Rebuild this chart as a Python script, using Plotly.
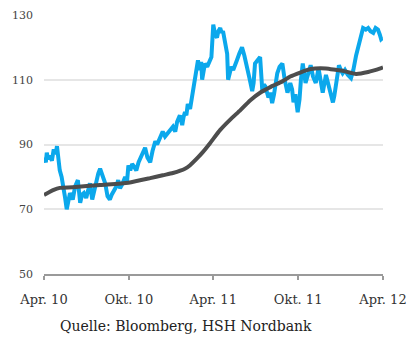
import plotly.graph_objects as go

# Daily price (blue) and its moving average (grey), USD
price_dates = [
    "2010-04-01", "2010-04-05", "2010-04-07", "2010-04-10", "2010-04-14",
    "2010-04-18", "2010-04-22", "2010-04-26", "2010-04-29", "2010-05-05",
    "2010-05-09", "2010-05-12", "2010-05-16", "2010-05-20", "2010-05-24",
    "2010-05-27", "2010-06-02", "2010-06-07", "2010-06-13", "2010-06-18",
    "2010-06-22", "2010-06-26", "2010-07-01", "2010-07-05", "2010-07-09",
    "2010-07-14", "2010-07-18", "2010-07-22", "2010-07-27", "2010-07-31",
    "2010-08-05", "2010-08-11", "2010-08-16", "2010-08-21", "2010-08-25",
    "2010-08-30", "2010-09-04", "2010-09-08", "2010-09-12", "2010-09-16",
    "2010-09-20", "2010-09-23", "2010-09-27", "2010-09-30", "2010-10-04",
    "2010-10-08", "2010-10-13", "2010-10-17", "2010-10-22", "2010-10-26",
    "2010-10-31", "2010-11-05", "2010-11-10", "2010-11-16", "2010-11-21",
    "2010-11-27", "2010-12-01", "2010-12-05", "2010-12-09", "2010-12-13",
    "2010-12-18", "2010-12-24", "2010-12-29", "2011-01-04", "2011-01-09",
    "2011-01-13", "2011-01-19", "2011-01-24", "2011-01-27", "2011-01-30",
    "2011-02-02", "2011-02-05", "2011-02-10", "2011-02-13", "2011-02-16",
    "2011-02-19", "2011-02-21", "2011-02-24", "2011-02-27", "2011-03-03",
    "2011-03-06", "2011-03-08", "2011-03-11", "2011-03-14", "2011-03-19",
    "2011-03-25", "2011-03-28", "2011-04-01", "2011-04-05", "2011-04-09",
    "2011-04-12", "2011-04-16", "2011-04-19", "2011-04-22", "2011-04-26",
    "2011-05-01", "2011-05-03", "2011-05-07", "2011-05-10", "2011-05-14",
    "2011-05-18", "2011-05-22", "2011-05-27", "2011-06-02", "2011-06-07",
    "2011-06-13", "2011-06-18", "2011-06-24", "2011-06-27", "2011-06-30",
    "2011-07-05", "2011-07-11", "2011-07-16", "2011-07-19", "2011-07-22",
    "2011-07-25", "2011-07-29", "2011-08-02", "2011-08-06", "2011-08-10",
    "2011-08-13", "2011-08-17", "2011-08-22", "2011-08-28", "2011-09-02",
    "2011-09-08", "2011-09-14", "2011-09-18", "2011-09-21", "2011-09-25",
    "2011-09-30", "2011-10-04", "2011-10-07", "2011-10-11", "2011-10-17",
    "2011-10-22", "2011-10-28", "2011-11-02", "2011-11-08", "2011-11-14",
    "2011-11-18", "2011-11-23", "2011-11-30", "2011-12-03", "2011-12-06",
    "2011-12-10", "2011-12-15", "2011-12-18", "2011-12-21", "2011-12-28",
    "2012-01-01", "2012-01-05", "2012-01-10", "2012-01-16", "2012-01-23",
    "2012-01-28", "2012-02-03", "2012-02-09", "2012-02-14", "2012-02-18",
    "2012-02-24", "2012-02-29", "2012-03-05", "2012-03-11", "2012-03-16",
    "2012-03-21", "2012-03-25", "2012-03-28", "2012-04-01",
]
price_values = [
    86.0, 84.5, 87.5, 85.5, 86.5,
    85.0, 88.5, 87.0, 89.5, 82.0,
    80.0, 78.0, 74.0, 70.0, 72.5,
    75.0, 73.0, 77.0, 79.0, 72.0,
    74.5, 75.0, 73.5, 76.5, 78.0,
    73.0, 75.5, 79.0, 81.0, 82.5,
    80.0, 78.0, 74.0, 73.0, 74.5,
    76.0, 77.0, 79.0, 76.5, 77.5,
    79.0, 80.0, 78.5, 83.5, 82.0,
    84.0, 83.0, 82.0, 84.5, 86.0,
    87.5, 89.0, 86.0, 84.5, 88.0,
    91.0, 90.0, 91.5, 93.0, 94.0,
    92.5, 93.5, 94.5, 95.5, 94.0,
    97.0, 99.0, 96.0, 98.5, 100.0,
    99.0, 102.5, 101.0, 103.5, 106.0,
    108.5, 111.0, 113.0, 116.0, 113.0,
    115.5, 110.0, 113.0, 115.0, 114.0,
    116.5, 117.0, 127.0, 124.0, 123.0,
    125.0, 126.0, 124.5, 125.0, 122.0,
    118.0, 110.0, 112.0, 114.0, 113.0,
    115.0, 116.0, 118.0, 120.0, 117.5,
    113.0, 110.5, 106.5, 109.0, 115.0,
    116.0, 117.0, 106.0, 108.5, 108.0,
    106.0, 104.5, 106.0, 102.8, 105.5,
    108.0, 112.0, 114.0, 115.0, 110.0,
    106.0, 109.0, 107.0, 103.0, 105.5,
    100.0, 104.0, 110.0, 115.0, 109.0,
    111.5, 114.5, 111.0, 109.0, 113.5,
    110.0, 106.0, 111.5, 110.0, 108.5,
    106.0, 103.0, 105.0, 108.0, 114.5,
    113.0, 112.0, 113.0, 111.5, 110.5,
    113.0, 117.5, 120.5, 123.0, 126.0,
    125.5, 126.0, 125.0, 124.5, 126.0,
    125.5, 124.0, 122.5, 123.0,
]

avg_dates = [
    "2010-04-01", "2010-04-22", "2010-05-05", "2010-06-02", "2010-07-31",
    "2010-09-30", "2010-11-16", "2010-12-13", "2011-01-04", "2011-01-30",
    "2011-02-10", "2011-02-27", "2011-03-08", "2011-03-25", "2011-04-16",
    "2011-05-07", "2011-05-30", "2011-06-20", "2011-07-11", "2011-08-03",
    "2011-08-28", "2011-09-14", "2011-10-28", "2011-11-30", "2011-12-23",
    "2012-01-05", "2012-02-03", "2012-02-29", "2012-03-28", "2012-04-01",
]
avg_values = [
    74.4, 76.0, 76.6, 76.8, 77.5,
    78.2, 79.6, 80.5, 81.2, 82.5,
    83.6, 86.0, 87.4, 90.4, 94.5,
    97.6, 100.7, 103.7, 106.0, 107.8,
    109.5, 111.0, 113.3, 113.5, 113.0,
    112.8, 111.8, 112.4, 113.6, 113.8,
]

tick_dates = ["2010-04-01", "2010-10-01", "2011-04-01", "2011-10-01", "2012-04-01"]
tick_labels = ["Apr. 10", "Okt. 10", "Apr. 11", "Okt. 11", "Apr. 12"]
y_ticks = [50, 70, 90, 110, 130]

FONT = "DejaVu Serif"

fig = go.Figure()
fig.add_trace(go.Scatter(
    x=price_dates, y=price_values, mode="lines",
    line=dict(color="#0BA8EC", width=4), showlegend=False,
    cliponaxis=False,
))
fig.add_trace(go.Scatter(
    x=avg_dates, y=avg_values, mode="lines", line_shape="spline",
    line=dict(color="#4D4D4D", width=4, smoothing=0.6), showlegend=False,
))

fig.update_layout(
    width=411, height=338,
    margin=dict(l=44, r=28, t=15, b=64),
    paper_bgcolor="white", plot_bgcolor="white",
    font=dict(family=FONT, size=13, color="#333333"),
    annotations=[dict(
        text="Quelle: Bloomberg, HSH Nordbank",
        xref="paper", yref="paper", x=0.42, y=-0.2,
        xanchor="center", yanchor="middle", showarrow=False,
        font=dict(family=FONT, size=14, color="#222222"),
    )],
)
fig.update_xaxes(
    range=["2010-04-01", "2012-04-01"],
    tickvals=tick_dates, ticktext=tick_labels,
    showgrid=False, zeroline=False, automargin=False,
    showline=True, linecolor="#9a9a9a", linewidth=1.5,
    ticks="outside", ticklen=4, tickcolor="#9a9a9a", tickwidth=1.5,
    ticklabelstandoff=9,
    tickfont=dict(family=FONT, size=13, color="#333333"),
)
fig.update_yaxes(
    range=[50, 130], tickvals=y_ticks, automargin=False,
    showgrid=True, gridcolor="#e6e6e6", gridwidth=2,
    zeroline=False, showline=False, ticks="",
    ticklabelstandoff=10,
    tickfont=dict(family=FONT, size=11, color="#444444"),
)

fig.write_html("out.html")
